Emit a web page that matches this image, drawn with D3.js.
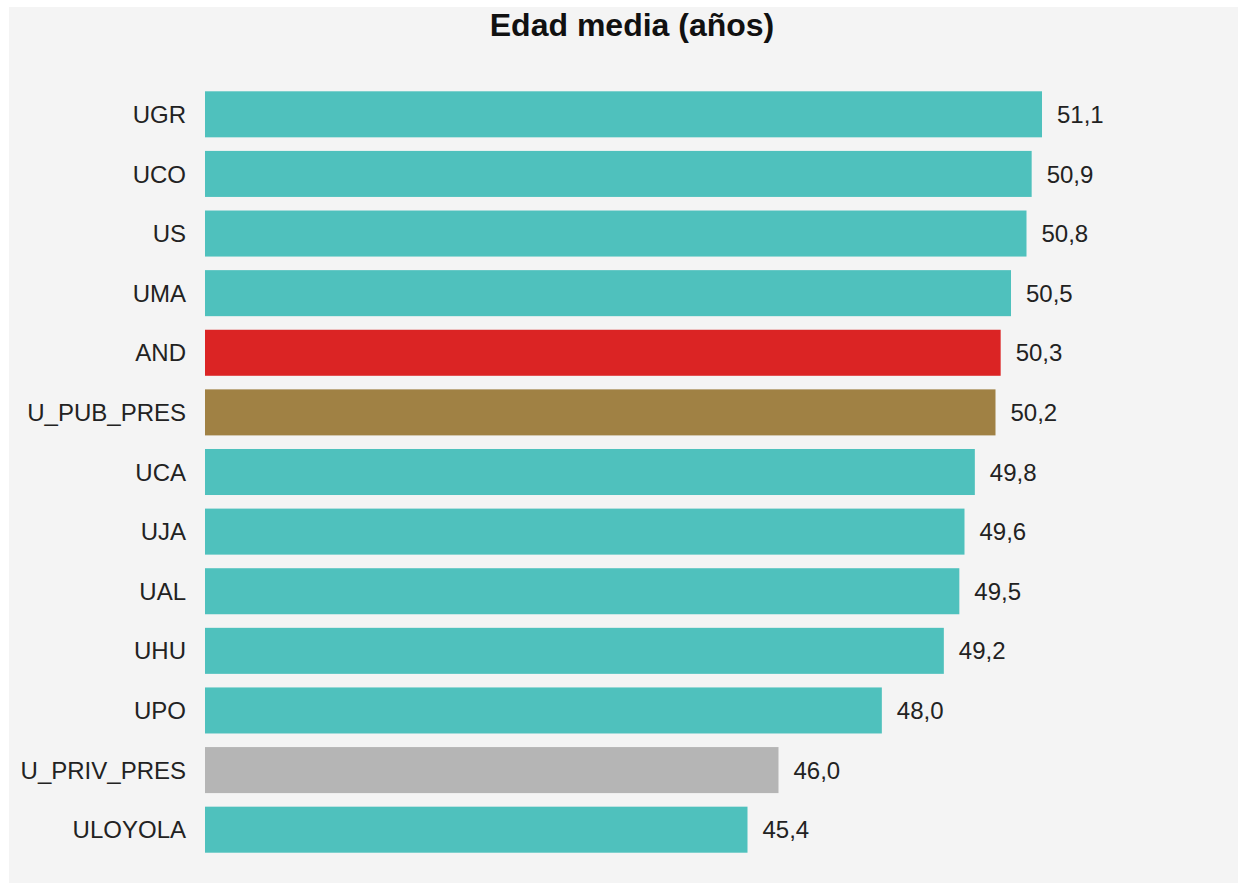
<!DOCTYPE html>
<html><head><meta charset="utf-8">
<script src="https://cdn.jsdelivr.net/npm/d3@7"></script>
<style>html,body{margin:0;padding:0;background:#fff;}</style>
</head><body>
<script>
const categories = ["UGR","UCO","US","UMA","AND","U_PUB_PRES","UCA","UJA","UAL","UHU","UPO","U_PRIV_PRES","ULOYOLA"];
const values = [51.1,50.9,50.8,50.5,50.3,50.2,49.8,49.6,49.5,49.2,48.0,46.0,45.4];
const colors = ["#4fc1bd","#4fc1bd","#4fc1bd","#4fc1bd","#db2424","#a08144","#4fc1bd","#4fc1bd","#4fc1bd","#4fc1bd","#4fc1bd","#b5b5b5","#4fc1bd"];
const title = "Edad media (años)";

const W = 1238, H = 883;
const svg = d3.select("body").append("svg").attr("width", W).attr("height", H);
svg.append("rect").attr("x", 9).attr("y", 7).attr("width", W - 9).attr("height", H - 7).attr("fill", "#f4f4f4");

svg.append("text").attr("x", 632).attr("y", 36).attr("text-anchor", "middle")
  .attr("font-family", "Liberation Sans, Arial, sans-serif").attr("font-weight", "bold")
  .attr("font-size", 32).attr("fill", "#111").text(title);

const x = d3.scaleLinear().domain([34.9, 51.1]).range([205, 1042]);
const y = d3.scaleBand().domain(categories).range([84.5, 859.5]).paddingInner(0.228).paddingOuter(0.114);

svg.selectAll("rect.bar").data(categories).join("rect").attr("class", "bar")
  .attr("x", x(34.9)).attr("y", d => y(d))
  .attr("width", (d, i) => x(values[i]) - x(34.9)).attr("height", y.bandwidth())
  .attr("fill", (d, i) => colors[i]);

const fmt = v => d3.format(".1f")(v).replace(".", ",");
svg.selectAll("text.val").data(categories).join("text").attr("class", "val")
  .attr("x", (d, i) => x(values[i]) + 15).attr("y", d => y(d) + y.bandwidth() / 2)
  .attr("dy", "0.36em").attr("font-family", "Liberation Sans, Arial, sans-serif")
  .attr("font-size", 24).attr("fill", "#222").text((d, i) => fmt(values[i]));

svg.selectAll("text.cat").data(categories).join("text").attr("class", "cat")
  .attr("x", 186).attr("y", d => y(d) + y.bandwidth() / 2)
  .attr("dy", "0.36em").attr("text-anchor", "end").attr("font-family", "Liberation Sans, Arial, sans-serif")
  .attr("font-size", 24).attr("fill", "#222").text(d => d);
</script>
</body></html>
